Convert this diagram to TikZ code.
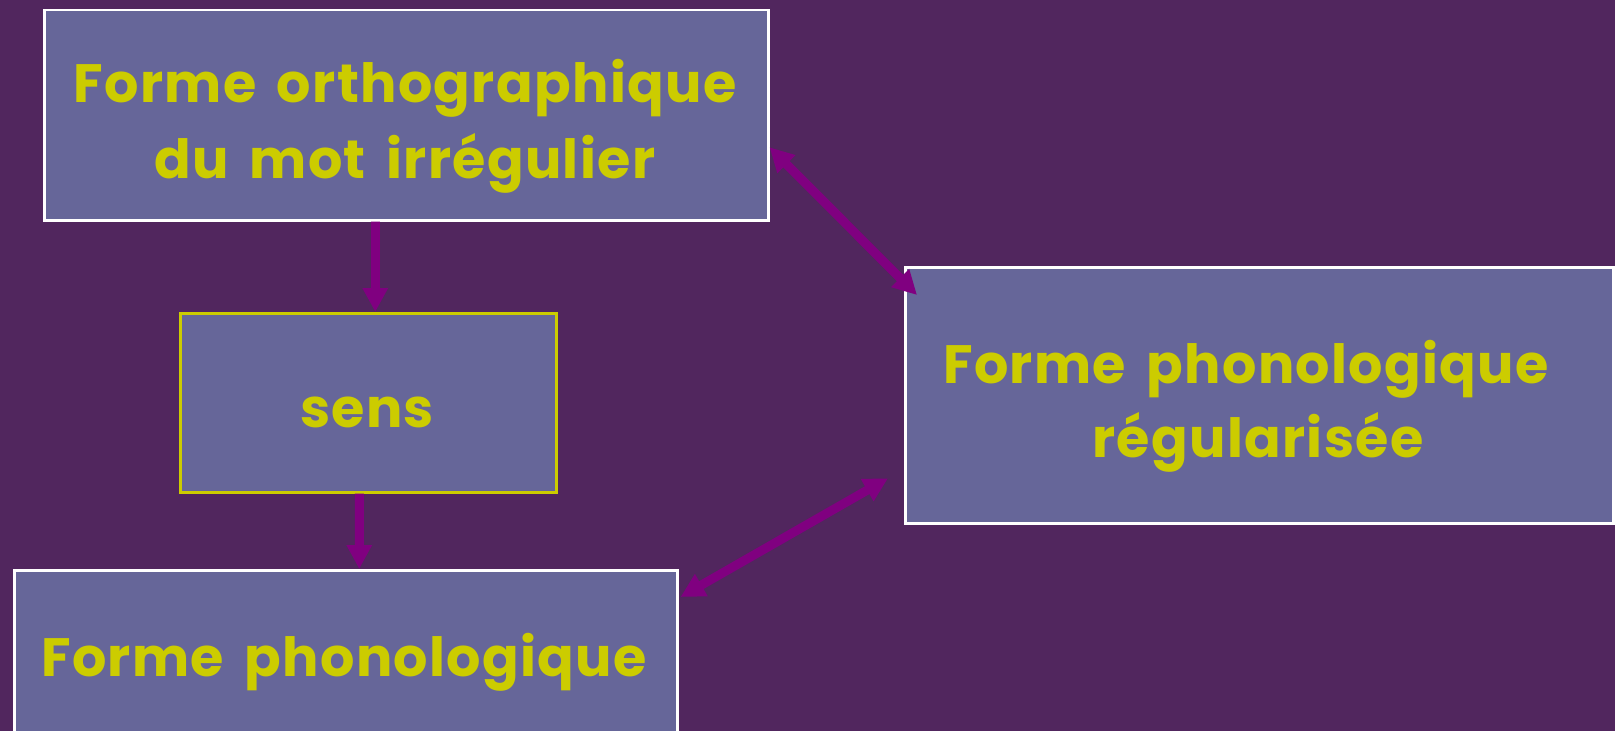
\documentclass[tikz,border=0pt]{standalone}
\usepackage{fontspec}
\setmainfont{Poppins}[LetterSpace=2.5,WordSpace=1.6]
\usetikzlibrary{arrows.meta}
\definecolor{bgc}{RGB}{81,38,94}
\definecolor{boxc}{RGB}{102,102,153}
\definecolor{txtc}{RGB}{204,204,0}
\definecolor{arrc}{RGB}{128,0,128}
\begin{document}
\begin{tikzpicture}[x=1bp,y=-1bp,
 box/.style={draw=white,line width=2.5bp,fill=boxc,inner sep=0pt,anchor=north west},
 lbl/.style={text=txtc,font=\fontsize{54bp}{75bp}\selectfont\bfseries,anchor=base,inner sep=0pt},
 arr/.style={draw=arrc,line width=9bp,-{Triangle[length=24bp,width=24bp]}},
 darr/.style={draw=arrc,line width=9bp,{Triangle[length=24bp,width=24bp]}-{Triangle[length=24bp,width=24bp]}}]
\fill[bgc] (0,0) rectangle (1615,731);
\useasboundingbox (0,0) rectangle (1615,731);
\node[box,minimum width=724bp,minimum height=210bp] (box1) at (43,9) {};
\node[box,draw=txtc,minimum width=376bp,minimum height=179bp] (sens) at (179,312) {};
\node[box,minimum width=663bp,minimum height=200bp] (box3) at (13,569) {};
\node[box,minimum width=708bp,minimum height=256bp] (right) at (904,266) {};
\node[lbl] (t1a) at (405,103) {Forme orthographique};
\node[lbl] (t1b) at (405,178) {du mot irrégulier};
\node[lbl] (ts) at (367,427) {sens};
\node[lbl] (t3) at (344,676) {Forme phonologique};
\node[lbl] (t2a) at (1246,383) {Forme phonologique};
\node[lbl] (t2b) at (1258,457) {régularisée};
\draw[arr] ([xshift=-31bp]box1.south) -- ([xshift=7bp]sens.north);
\draw[arr] ([xshift=-9bp]sens.south) -- ([xshift=13.5bp]box3.north);
\draw[darr] ([yshift=-32bp]box1.east) -- ([xshift=13bp,yshift=-29bp]right.north west);
\draw[darr] ([xshift=2bp,yshift=-28bp]box3.north east) -- ([xshift=-16bp,yshift=-83bp]right.west);
\end{tikzpicture}
\end{document}
